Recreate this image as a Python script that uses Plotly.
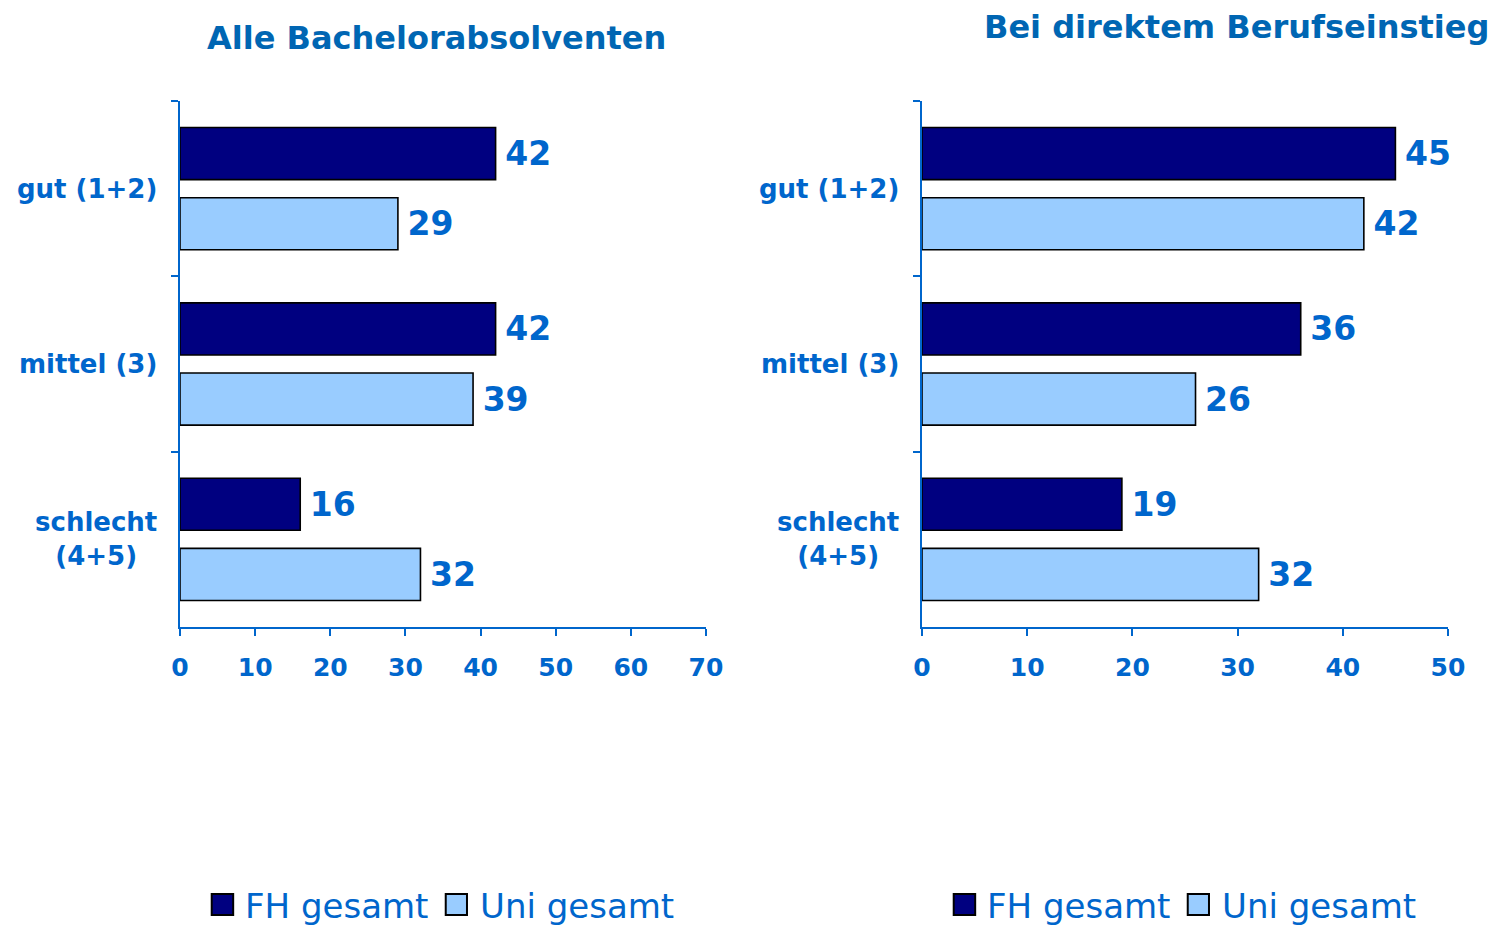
import plotly.graph_objects as go

categories = ["gut (1+2)", "mittel (3)", "schlecht<br>(4+5)"]
series = ["FH gesamt", "Uni gesamt"]

alle_fh = [42, 42, 16]
alle_uni = [29, 39, 32]
direkt_fh = [45, 36, 19]
direkt_uni = [42, 26, 32]

panel_titles = ["Alle Bachelorabsolventen", "Bei direktem Berufseinstieg"]
x_ranges = [[0, 70], [0, 50]]

COLORS = {"FH gesamt": "#000080", "Uni gesamt": "#99CCFF"}
BLUE = "#0066CC"
TITLE_BLUE = "#0066B3"
FONT = "DejaVu Sans, Verdana, sans-serif"

# page has an 8px body margin, so paper = window minus that offset
W, H = 1491, 917
dom_x = [[172 / W, 698 / W], [914 / W, 1440 / W]]
dom_y = [1 - 619 / H, 1 - 93 / H]

fig = go.Figure()
fig.update_layout(
    template="none",
    xaxis=dict(domain=dom_x[0], anchor="y"),
    yaxis=dict(domain=dom_y, anchor="x"),
    xaxis2=dict(domain=dom_x[1], anchor="y2"),
    yaxis2=dict(domain=dom_y, anchor="x2"),
)

panels = [(alle_fh, alle_uni), (direkt_fh, direkt_uni)]
for p, (fh, uni) in enumerate(panels):
    xa = "x" if p == 0 else "x2"
    ya = "y" if p == 0 else "y2"
    for name, vals in zip(series, (fh, uni)):
        fig.add_trace(
            go.Bar(
                x=vals,
                y=categories,
                orientation="h",
                name=name,
                xaxis=xa,
                yaxis=ya,
                marker=dict(color=COLORS[name], line=dict(color="#000000", width=1.6)),
                texttemplate="\u2009%{x}",
                textposition="outside",
                constraintext="none",
                cliponaxis=False,
                textfont=dict(family=FONT, size=33, color=BLUE, weight="bold"),
                showlegend=False,
                hoverinfo="skip",
            )
        )

fig.update_layout(
    width=W,
    height=H,
    barmode="group",
    bargap=0.2,
    bargroupgap=0.257,
    paper_bgcolor="white",
    plot_bgcolor="white",
    margin=dict(l=0, r=0, t=0, b=0, autoexpand=False),
    font=dict(family=FONT, color=BLUE),
    showlegend=False,
)

for p in range(2):
    xk = "xaxis" if p == 0 else "xaxis2"
    yk = "yaxis" if p == 0 else "yaxis2"
    fig.layout[xk].update(
        range=x_ranges[p],
        dtick=10,
        automargin=False,
        showgrid=False,
        zeroline=False,
        showline=True,
        linecolor=BLUE,
        linewidth=2,
        ticks="outside",
        ticklen=7,
        tickwidth=2,
        tickcolor=BLUE,
        ticklabelstandoff=10,
        tickfont=dict(family=FONT, size=25, color=BLUE, weight="bold"),
    )
    fig.layout[yk].update(
        type="category",
        autorange="reversed",
        automargin=False,
        showgrid=False,
        zeroline=False,
        showline=True,
        linecolor=BLUE,
        linewidth=2,
        ticks="outside",
        tickson="boundaries",
        ticklen=7,
        tickwidth=2,
        tickcolor=BLUE,
        showticklabels=False,
    )

    xd = "x domain" if p == 0 else "x2 domain"
    ydata = "y" if p == 0 else "y2"

    # category labels, lines centred like the original
    for cat in categories:
        fig.add_annotation(
            xref=xd, yref=ydata, x=0, y=cat, xshift=-21,
            text=f"<b>{cat}</b>", showarrow=False,
            xanchor="right", yanchor="middle", align="center",
            font=dict(family=FONT, size=26, color=BLUE),
        )

    # legend drawn by hand for the larger squares
    sq = [(0.0603, 0.1011, 0.1198), (0.5052, 0.5456, 0.566)]
    for (x0, x1, xt), name in zip(sq, series):
        fig.add_shape(
            type="rect", xref=xd, yref="paper",
            x0=x0, x1=x1, y0=1 - 907 / H, y1=1 - 886 / H,
            fillcolor=COLORS[name], line=dict(color="#000000", width=2),
        )
        fig.add_annotation(
            xref=xd, yref="paper", x=xt, y=1 - 898 / H,
            text=name, showarrow=False, xanchor="left", yanchor="middle",
            font=dict(family=FONT, size=34, color=BLUE),
        )

fig.add_annotation(
    xref="paper", yref="paper", x=428.5 / W, y=1 - 30 / H,
    text=f"<b>{panel_titles[0]}</b>", showarrow=False,
    xanchor="center", yanchor="middle",
    font=dict(family=FONT, size=32, color=TITLE_BLUE),
)
fig.add_annotation(
    xref="paper", yref="paper", x=1483 / W, y=1 - 19 / H,
    text=f"<b>{panel_titles[1]}</b>", showarrow=False,
    xanchor="right", yanchor="middle",
    font=dict(family=FONT, size=32, color=TITLE_BLUE),
)

fig.write_html("out.html")
